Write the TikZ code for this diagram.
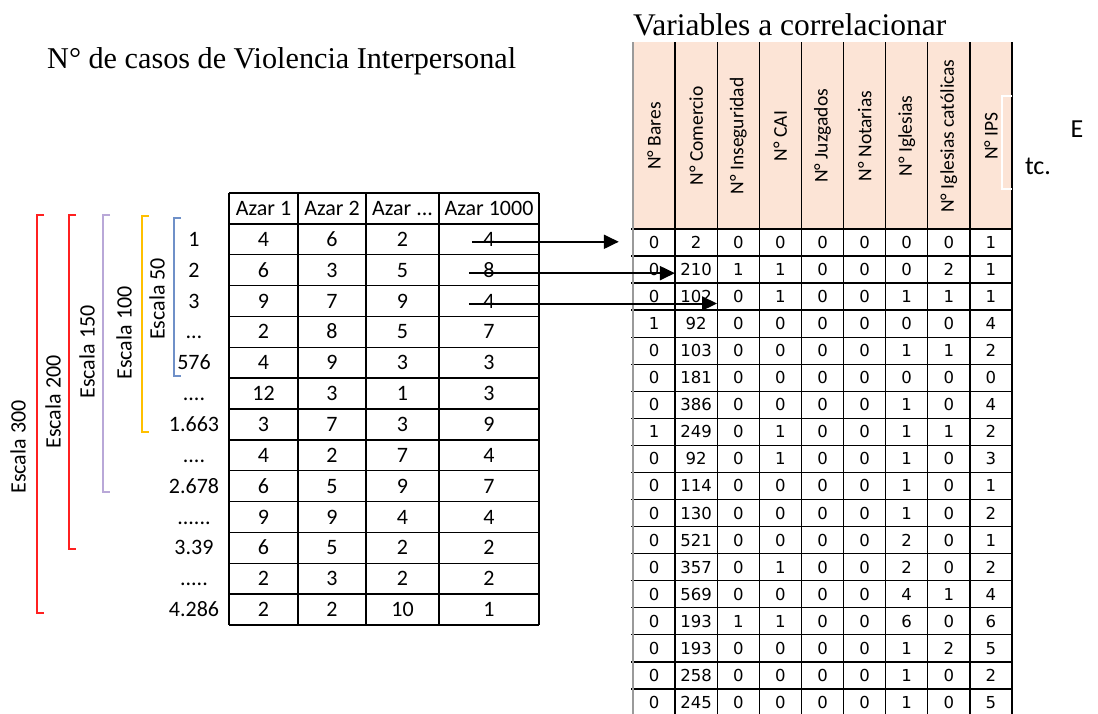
\documentclass[tikz,border=0pt]{standalone}
\usepackage{fontspec}
\setmainfont{Liberation Serif}
\newfontfamily\calfont{Carlito}
\newfontfamily\verdfont{DejaVu Sans}
\usetikzlibrary{arrows.meta}
\definecolor{peach}{HTML}{FCE4D6}
\definecolor{brred}{HTML}{FF2020}
\definecolor{brpurple}{HTML}{B9A8D8}
\definecolor{bryellow}{HTML}{FFC000}
\definecolor{brblue}{HTML}{6F90C8}
\definecolor{bordergray}{HTML}{9A9A9A}
\newcommand\myfourdots{....}
\newcommand\myfivedots{.....}
\newcommand\mysixdots{......}
\begin{document}
\begin{tikzpicture}[x=1pt,y=-1pt,
  gridline/.style={line width=1.4pt, black},
  lcell/.style={font=\calfont\fontsize{22}{24}\selectfont, inner sep=0pt, text height=14pt, text depth=0pt, minimum height=30.86pt, anchor=center},
  rcell/.style={font=\verdfont\fontsize{16.5}{18}\selectfont, inner sep=0pt, text height=12pt, text depth=0pt, minimum width=42.1pt, minimum height=27.05pt, anchor=center},
  hcell/.style={font=\calfont\fontsize{19.5}{21}\selectfont, inner sep=0pt, rotate=90, anchor=center},
  bracketline/.style={line width=1.3pt},
  scalelabel/.style={font=\calfont\fontsize{22}{24}\selectfont, rotate=90, inner sep=0pt, anchor=center},
  arr/.style={line width=2pt, -{Triangle[length=15pt,width=14pt]}},
  title/.style={inner sep=0pt, anchor=base west}
]
\useasboundingbox (0,0) rectangle (1098,713);

% titles
\node[title, font=\fontsize{30.2}{32}\selectfont] (t1) at (47,68) {N° de casos de Violencia Interpersonal};
\node[title, font=\fontsize{31.5}{33}\selectfont] (t2) at (633,35) {Variables a correlacionar};

% ---------- left table ----------
\foreach \yy in {0,1,2,3,4,5,6,7,8,9,10,11,12,13,14} {
  \draw[gridline] (229,{193+\yy*30.857}) -- (539,{193+\yy*30.857});
}
\foreach \xx in {229,298,366,439,539} {
  \draw[gridline] (\xx,193) -- (\xx,625);
}
\node[lcell, minimum width=69pt] (H-1) at (263.5,208.4) {Azar 1};
\node[lcell, minimum width=68pt] (H-2) at (332,208.4) {Azar 2};
\node[lcell, minimum width=73pt] (H-3) at (402.5,208.4) {Azar ...};
\node[lcell, minimum width=100pt] (H-4) at (489,208.4) {Azar 1000};

\foreach \lab/\a/\b/\c/\d [count=\r] in {
  1/4/6/2/4, 2/6/3/5/8, 3/9/7/9/4, …/2/8/5/7, 576/4/9/3/3,
  \myfourdots/12/3/1/3, 1.663/3/7/3/9, \myfourdots/4/2/7/4, 2.678/6/5/9/7,
  \mysixdots/9/9/4/4, 3.39/6/5/2/2, \myfivedots/2/3/2/2, 4.286/2/2/10/1} {
  \pgfmathsetmacro{\yc}{193+(\r+0.5)*30.857}
  \node[lcell] (lab-\r) at (194,\yc) {\lab};
  \node[lcell, minimum width=69pt] (L-\r-1) at (263.5,\yc) {\a};
  \node[lcell, minimum width=68pt] (L-\r-2) at (332,\yc) {\b};
  \node[lcell, minimum width=73pt] (L-\r-3) at (402.5,\yc) {\c};
  \node[lcell, minimum width=100pt] (L-\r-4) at (489,\yc) {\d};
}

% ---------- brackets ----------
\draw[bracketline, brred] (44,215) -- (37,215) -- (37,613) -- (44,613);
\draw[bracketline, brred] (76,215) -- (69,215) -- (69,549) -- (76,549);
\draw[bracketline, brpurple] (110,215) -- (103,215) -- (103,492) -- (110,492);
\draw[bracketline, bryellow] (149,216) -- (142,216) -- (142,432) -- (149,432);
\draw[bracketline, brblue] (181,218) -- (174,218) -- (174,376) -- (181,376);
\node[scalelabel] (s300) at (18,447) {Escala 300};
\node[scalelabel] (s200) at (53,402) {Escala 200};
\node[scalelabel] (s150) at (87,352) {Escala 150};
\node[scalelabel] (s100) at (124,333) {Escala 100};
\node[scalelabel] (s50) at (157,299) {Escala 50};

% ---------- right table ----------
\fill[peach] (633,42) rectangle (1012,229);
\foreach \yy in {0,1,2,3,4,5,6,7,8,9,10,11,12,13,14,15,16,17,18} {
  \draw[gridline] (631,{229+\yy*27.05}) -- (1012,{229+\yy*27.05});
}
\foreach \k in {1,2,3,4,5,6,7,8,9} {
  \draw[gridline] ({633+\k*42.11},42) -- ({633+\k*42.11},716);
}
\draw[line width=1.6pt, bordergray] (633,42) -- (633,716);

\foreach \h [count=\k] in {N° Bares, N° Comercio, N° Inseguridad, N° CAI, N° Juzgados, N° Notarias, N° Iglesias, N° Iglesias católicas, N° IPS} {
  \node[hcell] (V-\k) at ({633+(\k-0.5)*42.11},136) {\h};
}

\foreach \rowdata [count=\r] in {
  {0,2,0,0,0,0,0,0,1}, {0,210,1,1,0,0,0,2,1}, {0,102,0,1,0,0,1,1,1},
  {1,92,0,0,0,0,0,0,4}, {0,103,0,0,0,0,1,1,2}, {0,181,0,0,0,0,0,0,0},
  {0,386,0,0,0,0,1,0,4}, {1,249,0,1,0,0,1,1,2}, {0,92,0,1,0,0,1,0,3},
  {0,114,0,0,0,0,1,0,1}, {0,130,0,0,0,0,1,0,2}, {0,521,0,0,0,0,2,0,1},
  {0,357,0,1,0,0,2,0,2}, {0,569,0,0,0,0,4,1,4}, {0,193,1,1,0,0,6,0,6},
  {0,193,0,0,0,0,1,2,5}, {0,258,0,0,0,0,1,0,2}, {0,245,0,0,0,0,1,0,5}} {
  \foreach \v [count=\c] in \rowdata {
    \node[rcell] (R-\r-\c) at ({633+(\c-0.5)*42.11},{229+(\r-0.5)*27.05}) {\v};
  }
}

% white bracket and Etc.
\draw[line width=1.3pt, white] (1012,96) -- (1002,96) -- (1002,189) -- (1012,189);
\node[font=\calfont\fontsize{26}{28}\selectfont, inner sep=0pt] (etcE) at (1077,129) {E};
\node[font=\calfont\fontsize{26}{28}\selectfont, inner sep=0pt] (etcT) at (1038,166) {tc.};

% ---------- arrows ----------
\coordinate (a1) at ([xshift=33pt,yshift=-2.5pt]L-1-4.west);
\coordinate (e1) at ([xshift=-14pt]R-1-1.west);
\draw[arr] (a1) -- (a1 -| e1);
\coordinate (a2) at ([xshift=30pt,yshift=-3pt]L-2-4.west);
\coordinate (e2) at (R-2-2.west);
\draw[arr] (a2) -- (a2 -| e2);
\coordinate (a3) at ([xshift=30pt,yshift=-2.5pt]L-3-4.west);
\coordinate (e3) at (R-3-3.west);
\draw[arr] (a3) -- (a3 -| e3);
\end{tikzpicture}
\end{document}
